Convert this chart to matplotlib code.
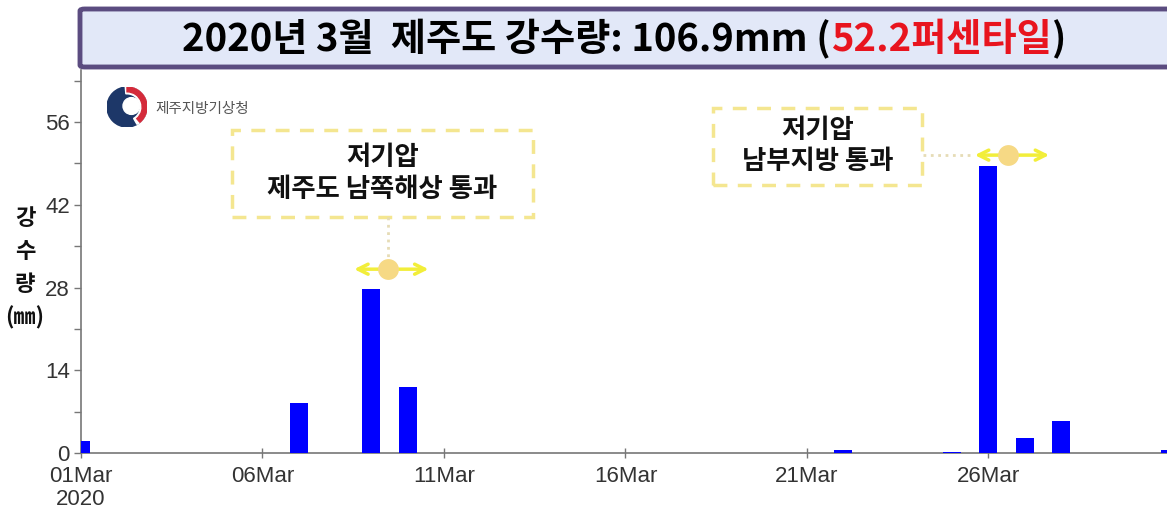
import matplotlib
matplotlib.use("Agg")
import matplotlib.pyplot as plt
import matplotlib.dates as mdates
from matplotlib.patches import FancyBboxPatch, Rectangle, Circle, Wedge
import datetime as dt

plt.rcParams['font.family'] = ['Noto Sans CJK KR', 'DejaVu Sans']

# ---- data ----
dates = ['2020-03-01', '2020-03-07', '2020-03-09', '2020-03-10', '2020-03-22',
         '2020-03-25', '2020-03-26', '2020-03-27', '2020-03-28', '2020-03-31']
rain_mm = [2.0, 8.5, 27.7, 11.2, 0.5, 0.1, 48.5, 2.5, 5.4, 0.5]
tick_dates = ['2020-03-01', '2020-03-06', '2020-03-11', '2020-03-16', '2020-03-21', '2020-03-26']
tick_labels = ['01Mar\n2020', '06Mar', '11Mar', '16Mar', '21Mar', '26Mar']
y_ticks = [0, 14, 28, 42, 56]
title_main = '2020년 3월  제주도 강수량: 106.9mm ('
title_red = '52.2퍼센타일'
title_end = ')'
ylabel = '강\n수\n량\n(㎜)'
note1 = '저기압\n제주도 남쪽해상 통과'
note2 = '저기압\n남부지방 통과'

W, H = 1167, 508
fig = plt.figure(figsize=(W / 100, H / 100), dpi=100)
fig.patch.set_facecolor('white')


def fx(x):
    return x / W


def fy(y):
    return 1 - y / H


ax = fig.add_axes([fx(81), fy(453), (W - 81) / W, (453 - 70) / H])

d0 = mdates.date2num(dt.datetime(2020, 3, 1))
xs = [mdates.date2num(dt.datetime.strptime(d, '%Y-%m-%d')) for d in dates]
ax.bar(xs, rain_mm, width=0.5, color='#0000ff', zorder=3)

ax.set_xlim(d0, d0 + 29.92)
ax.set_ylim(0, 64.8)
ax.set_xticks([mdates.date2num(dt.datetime.strptime(d, '%Y-%m-%d')) for d in tick_dates])
ax.set_xticklabels(tick_labels, family='Liberation Sans', fontsize=16, color='#333333',
                   linespacing=1.1)
ax.set_yticks(y_ticks)
ax.set_yticks(list(range(7, 64, 14)), minor=True)
ax.set_yticklabels([str(v) for v in y_ticks], family='Liberation Sans', fontsize=16, color='#333333')
ax.tick_params(axis='both', which='both', direction='out', length=5, width=1, color='#777777')
ax.tick_params(axis='x', direction='inout', length=7, pad=6)
ax.tick_params(axis='y', pad=3)
for s in ['top', 'right']:
    ax.spines[s].set_visible(False)
for s in ['left', 'bottom']:
    ax.spines[s].set_color('#777777')
    ax.spines[s].set_linewidth(1.2)

# y label
fig.text(fx(25), fy(268), ylabel, ha='center', va='center', fontsize=16, fontweight='bold',
         linespacing=1.55, color='#111111')

# ---- annotations ----
def day(x):
    return d0 + x


# box 1
ax.add_patch(Rectangle((day(4.16), 39.9), 8.29, 14.7, fill=True, facecolor='white',
                       edgecolor='#f4e690', lw=2.5, ls=(0, (4, 3)), zorder=4))
ax.text(day(8.3), 47.3, note1, ha='center', va='center', fontsize=19, fontweight='bold',
        linespacing=1.2, color='#111111', zorder=5)
ax.plot([day(8.46), day(8.46)], [39.9, 32.5], ls=':', color='#e6dcb6', lw=2, zorder=4)
ax.annotate('', xy=(day(7.45), 31.1), xytext=(day(9.65), 31.1),
            arrowprops=dict(arrowstyle='<->', color='#f2ee3a', lw=2.5, mutation_scale=18), zorder=5)
ax.plot(day(8.46), 31.1, 'o', ms=15, color='#f6d985', mec='none', zorder=6)

# box 2
ax.add_patch(Rectangle((day(17.41), 45.3), 5.76, 13.1, fill=True, facecolor='white',
                       edgecolor='#f4e690', lw=2.5, ls=(0, (4, 3)), zorder=4))
ax.text(day(20.29), 51.9, note2, ha='center', va='center', fontsize=19, fontweight='bold',
        linespacing=1.2, color='#111111', zorder=5)
ax.plot([day(23.2), day(24.5)], [50.4, 50.4], ls=':', color='#e6dcb6', lw=2, zorder=4)
ax.annotate('', xy=(day(24.55), 50.4), xytext=(day(26.75), 50.4),
            arrowprops=dict(arrowstyle='<->', color='#f2ee3a', lw=2.5, mutation_scale=18), zorder=5)
ax.plot(day(25.55), 50.4, 'o', ms=15, color='#f6d985', mec='none', zorder=6)

# ---- logo ----
cx, cy, r = 127, 107, 20
logo_ax = fig.add_axes([fx(cx - r), fy(cy + r), 2 * r / W, 2 * r / H])
logo_ax.set_xlim(-1, 1)
logo_ax.set_ylim(-1, 1)
logo_ax.axis('off')
logo_ax.add_patch(Circle((0, 0), 1.0, color='#1d3768'))
logo_ax.add_patch(Wedge((0, 0), 1.0, -60, 95, width=0.34, color='white'))
logo_ax.add_patch(Wedge((0, 0), 1.0, -50, 90, width=0.24, color='#d42a3a'))
logo_ax.add_patch(Circle((0.22, 0.05), 0.42, color='white'))
fig.text(fx(155), fy(109), '제주지방기상청', ha='left', va='center', fontsize=10.5,
         color='#555555')

# ---- title box ----
fig.patches.append(FancyBboxPatch((fx(80), fy(67)), fx(1200 - 80), (67 - 9) / H,
                                  boxstyle='round,pad=0,rounding_size=0.004',
                                  transform=fig.transFigure, facecolor='#e2e8f8',
                                  edgecolor='#5b4c80', lw=3.5, zorder=10))
ty = fy(39)
fs = 27.5
t1 = fig.text(0, ty, title_main, ha='left', va='center', fontsize=fs, fontweight='bold',
              color='black', zorder=11)
t2 = fig.text(0, ty, title_red, ha='left', va='center', fontsize=fs, fontweight='bold',
              color='#e8141e', zorder=11)
t3 = fig.text(0, ty, title_end, ha='left', va='center', fontsize=fs, fontweight='bold',
              color='black', zorder=11)
fig.canvas.draw()
rend = fig.canvas.get_renderer()
w1 = t1.get_window_extent(rend).width / W
w2 = t2.get_window_extent(rend).width / W
w3 = t3.get_window_extent(rend).width / W
start = fx(624) - (w1 + w2 + w3) / 2
t1.set_x(start)
t2.set_x(start + w1)
t3.set_x(start + w1 + w2)

fig.savefig('out.png', dpi=100)
